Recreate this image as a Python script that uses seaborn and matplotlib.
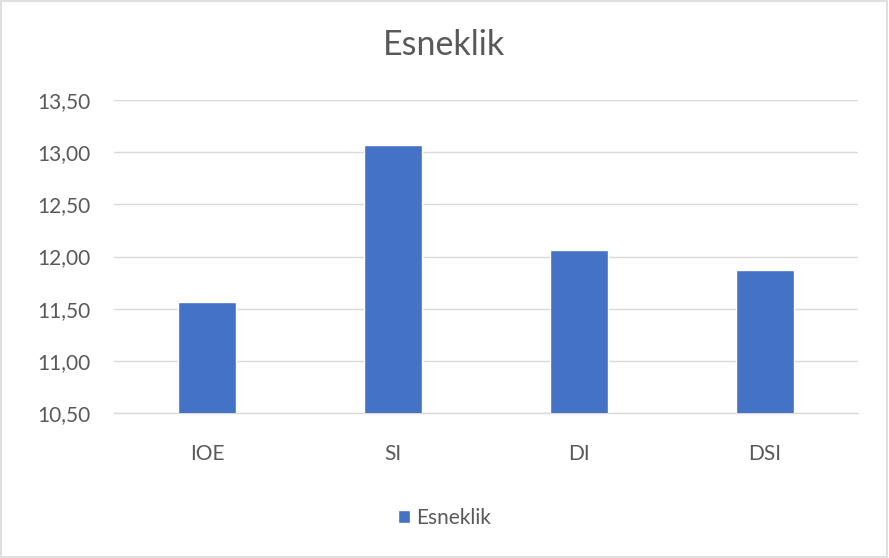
import matplotlib
matplotlib.use("Agg")
import matplotlib.pyplot as plt
import seaborn as sns
import pandas as pd
from matplotlib.ticker import FuncFormatter, MultipleLocator
from matplotlib.patches import Rectangle

categories = ["IOE", "SI", "DI", "DSI"]
values = [11.565, 13.065, 12.06, 11.87]
series_name = "Esneklik"
title = "Esneklik"

sns.set_theme(style="white")
plt.rcParams['font.family'] = ['Lato', 'DejaVu Sans']

df = pd.DataFrame({"cat": categories, "val": values})

fig = plt.figure(figsize=(8.89, 5.58), dpi=100)
ax = fig.add_axes([114/889, 1-413/558, (858-114)/889, (413-100)/558])

sns.barplot(data=df, x="cat", y="val", color="#4472C4", width=0.31,
            saturation=1, ax=ax, label=series_name, zorder=3)

ax.set_ylim(10.5, 13.5)
ax.set_xlim(-0.5, 3.5)
ax.yaxis.set_major_locator(MultipleLocator(0.5))
ax.yaxis.set_major_formatter(FuncFormatter(lambda v, p: f"{v:.2f}".replace('.', ',')))
ax.grid(axis='y', color='#d9d9d9', linewidth=1, zorder=0)
ax.set_axisbelow(True)
for s in ["left", "right", "top"]:
    ax.spines[s].set_visible(False)
ax.spines["bottom"].set_color('#d9d9d9')
ax.spines["bottom"].set_linewidth(1)
ax.set_xlabel("")
ax.set_ylabel("")
ax.tick_params(axis='both', length=0, labelsize=15, labelcolor='#595959')
ax.tick_params(axis='y', pad=17)
ax.tick_params(axis='x', pad=22)

fig.text(0.5, 1-45/558, title, ha='center', va='center', fontsize=24.5, color='#595959')

handles, labels = ax.get_legend_handles_labels()
if ax.get_legend():
    ax.get_legend().remove()
fig.legend(handles, labels, loc='center', bbox_to_anchor=(0.5, 1-518/558),
           frameon=False, fontsize=15, handlelength=0.6, handleheight=0.6,
           handletextpad=0.3, labelcolor='#595959')

fig.patches.append(Rectangle((0.001, 0.001), 0.997, 0.997, transform=fig.transFigure,
                             fill=False, edgecolor='#d9d9d9', linewidth=1.2))

fig.savefig("out.png", dpi=100)
